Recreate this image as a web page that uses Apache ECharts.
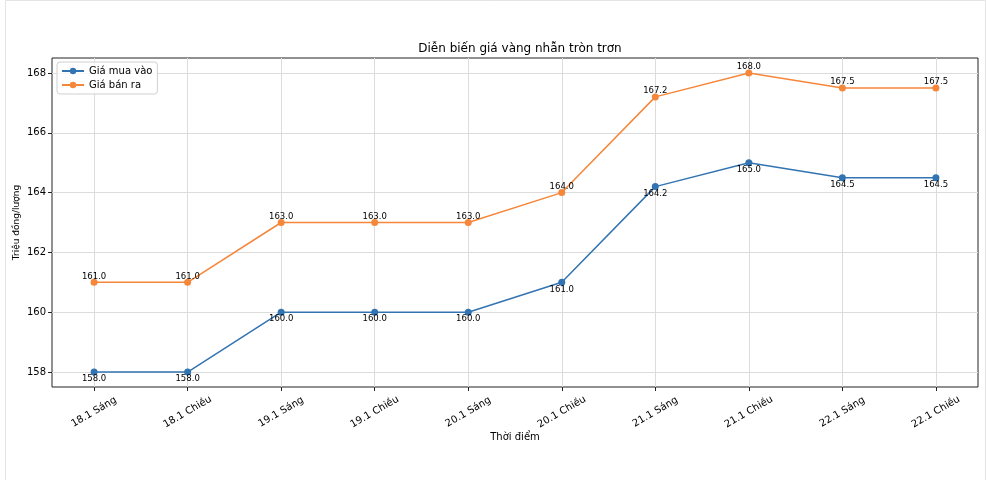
<!DOCTYPE html>
<html>
<head>
<meta charset="utf-8">
<script src="https://cdn.jsdelivr.net/npm/echarts@6/dist/echarts.min.js"></script>
<style>
html,body{margin:0;padding:0;background:#fff;}
#chart{width:986px;height:480px;}
</style>
</head>
<body>
<div id="chart"></div>
<script>
const categories = ['18.1 Sáng','18.1 Chiều','19.1 Sáng','19.1 Chiều','20.1 Sáng','20.1 Chiều','21.1 Sáng','21.1 Chiều','22.1 Sáng','22.1 Chiều'];
const buyPrices = [158.0,158.0,160.0,160.0,160.0,161.0,164.2,165.0,164.5,164.5];
const sellPrices = [161.0,161.0,163.0,163.0,163.0,164.0,167.2,168.0,167.5,167.5];
const yTicks = [158,160,162,164,166,168];
const seriesNames = ['Giá mua vào','Giá bán ra'];

const FONT = 'DejaVu Sans';
const xIdx = categories.map((c,i)=>i);
const toPts = arr => arr.map((v,i)=>[i,v]);

const chart = echarts.init(document.getElementById('chart'), null, {renderer:'canvas'});
chart.setOption({
  animation:false,
  backgroundColor:'#fff',
  textStyle:{fontFamily:FONT},
  title:{
    text:'Diễn biến giá vàng nhẫn tròn trơn',
    left:515, top:38, textAlign:'center',
    textStyle:{fontFamily:FONT,fontSize:12,fontWeight:'normal',color:'#000'}
  },
  legend:{
    orient:'vertical', left:57, top:62,
    itemWidth:22, itemHeight:8, itemGap:4,
    padding:[4,5,4,4],
    borderColor:'#d0d0d0', borderWidth:1, borderRadius:3,
    backgroundColor:'rgba(255,255,255,0.8)',
    textStyle:{fontFamily:FONT,fontSize:10,color:'#000'},
    data:seriesNames
  },
  grid:{left:52, right:8, top:58, bottom:93, show:true, borderColor:'#222', borderWidth:1, backgroundColor:'transparent'},
  xAxis:{
    type:'value', min:-0.45, max:9.45,
    name:'Thời điểm', nameLocation:'middle', nameGap:45, nameMoveOverlap:false,
    nameTextStyle:{fontFamily:FONT,fontSize:10,color:'#000'},
    axisLine:{show:false, onZero:false},
    axisTick:{show:true, length:4, lineStyle:{color:'#222'}, customValues:xIdx},
    axisLabel:{customValues:xIdx, rotate:30, align:'center', verticalAlign:'middle', fontFamily:FONT, fontSize:10, color:'#000', margin:25,
      formatter: v => categories[Math.round(v)] || ''},
    splitLine:{show:true, lineStyle:{color:'#dcdcdc', width:1}}
  },
  yAxis:{
    type:'value', min:157.5, max:168.5,
    name:'Triệu đồng/lượng', nameLocation:'middle', nameGap:31, nameRotate:90, nameMoveOverlap:false,
    nameTextStyle:{fontFamily:FONT,fontSize:9,color:'#000'},
    axisLine:{show:false, onZero:false},
    axisTick:{show:true, length:4, lineStyle:{color:'#222'}, customValues:yTicks},
    axisLabel:{customValues:yTicks, fontFamily:FONT, fontSize:10, color:'#000', margin:6},
    splitLine:{show:true, lineStyle:{color:'#dcdcdc', width:1}}
  },
  series:[
    {
      name:seriesNames[0], type:'line', data:toPts(buyPrices),
      symbol:'circle', symbolSize:7,
      itemStyle:{color:'#3274b2'}, lineStyle:{color:'#3274b2', width:1.5},
      label:{show:true, position:'inside', offset:[0,7], fontFamily:FONT, fontSize:8.5, color:'#000',
        formatter: p => p.value[1].toFixed(1)}
    },
    {
      name:seriesNames[1], type:'line', data:toPts(sellPrices),
      symbol:'circle', symbolSize:7,
      itemStyle:{color:'#f5873a'}, lineStyle:{color:'#f5873a', width:1.5},
      label:{show:true, position:'inside', offset:[0,-6], fontFamily:FONT, fontSize:8.5, color:'#000',
        formatter: p => p.value[1].toFixed(1)}
    }
  ],
  graphic:[
    {type:'rect', left:3, top:-2, shape:{width:980, height:490}, style:{fill:'none', stroke:'#e4e4e4', lineWidth:1}, silent:true}
  ]
});
</script>
</body>
</html>
